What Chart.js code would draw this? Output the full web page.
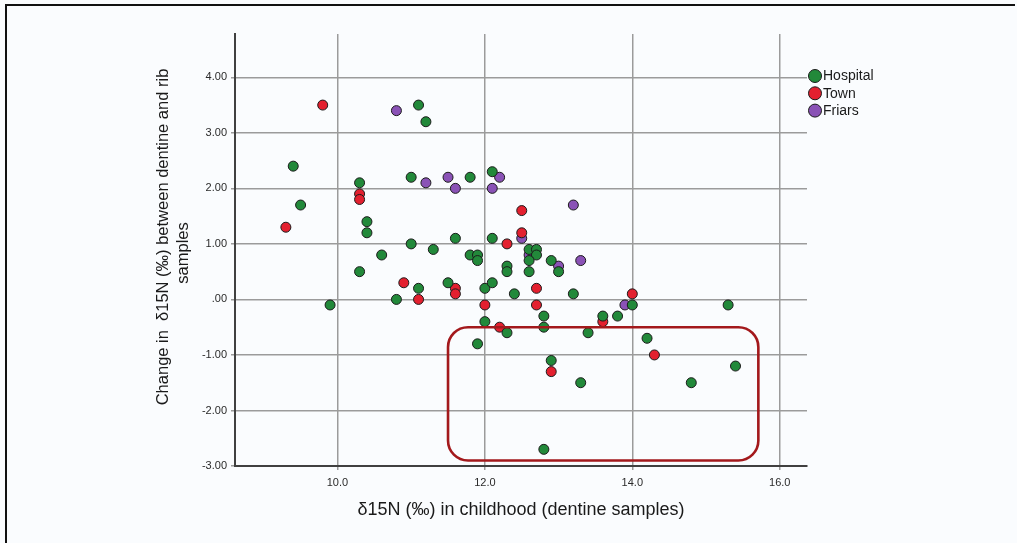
<!DOCTYPE html>
<html>
<head>
<meta charset="utf-8">
<script src="https://cdn.jsdelivr.net/npm/chart.js@4.4.1/dist/chart.umd.min.js"></script>
<style>
  html, body { margin: 0; padding: 0; background: #fafcfe; }
  #wrap { position: relative; width: 1017px; height: 543px; overflow: hidden; }
  #frame { position: absolute; left: 5px; top: 4px; width: 1010px; height: 560px;
           border-top: 2px solid #111; border-left: 2px solid #111; box-sizing: border-box; }
  canvas { position: absolute; left: 0; top: 0; }
</style>
</head>
<body>
<div id="wrap">
  <div id="frame"></div>
  <canvas id="c" width="1017" height="543"></canvas>
</div>
<script>
// ---- data ----
const seriesNames = ["Hospital", "Town", "Friars"];

const hospitalX = [11.1, 11.2, 9.4, 9.5, 10.3, 10.4, 10.4, 11.0, 11.8, 12.1, 11.0, 11.3, 10.6, 10.3, 9.9, 10.8, 11.1, 11.5, 11.6, 12.1, 11.8, 11.9, 11.9, 12.0, 12.1, 12.3, 12.3, 12.4, 12.6, 12.7, 12.7, 12.6, 12.6, 12.9, 13.0, 13.2, 12.0, 12.3, 11.9, 12.8, 12.8, 13.4, 13.6, 13.8, 14.0, 14.2, 12.9, 13.3, 12.8, 14.8, 15.4, 15.3];
const hospitalY = [3.5, 3.2, 2.4, 1.7, 2.1, 1.4, 1.2, 2.2, 2.2, 2.3, 1.0, 0.9, 0.8, 0.5, -0.1, 0.0, 0.2, 0.3, 1.1, 1.1, 0.8, 0.8, 0.7, 0.2, 0.3, 0.6, 0.5, 0.1, 0.9, 0.9, 0.8, 0.7, 0.5, 0.7, 0.5, 0.1, -0.4, -0.6, -0.8, -0.3, -0.5, -0.6, -0.3, -0.3, -0.1, -0.7, -1.1, -1.5, -2.7, -1.5, -1.2, -0.1];

const townX = [9.8, 9.3, 10.3, 10.3, 10.9, 11.1, 11.6, 11.6, 12.0, 12.2, 12.3, 12.5, 12.5, 12.7, 12.7, 13.6, 14.0, 14.3, 12.9];
const townY = [3.5, 1.3, 1.9, 1.8, 0.3, 0.0, 0.2, 0.1, -0.1, -0.5, 1.0, 1.6, 1.2, 0.2, -0.1, -0.4, 0.1, -1.0, -1.3];

const friarsX = [10.8, 11.2, 11.5, 11.6, 12.1, 12.2, 12.5, 12.6, 13.0, 13.3, 13.2, 13.9];
const friarsY = [3.4, 2.1, 2.2, 2.0, 2.0, 2.2, 1.1, 0.8, 0.6, 0.7, 1.7, -0.1];

const xTickValues = [10, 12, 14, 16];
const yTickValues = [-3, -2, -1, 0, 1, 2, 3, 4];

// highlighted region (data units)
const boxX = [11.5, 15.71];
const boxY = [-2.9, -0.5];

const xTitle = "δ15N (‰) in childhood (dentine samples)";
const yTitleLines = ["Change in  δ15N (‰) between dentine and rib", "samples"];

// ---- styling ----
const colors = ["#22893a", "#e3202f", "#8a52b6"];
const FONT = "'Liberation Sans', Arial, sans-serif";

function pts(xs, ys) { return xs.map((x, i) => ({ x: x, y: ys[i] })); }

const datasets = [
  { label: seriesNames[0], data: pts(hospitalX, hospitalY) },
  { label: seriesNames[1], data: pts(townX, townY) },
  { label: seriesNames[2], data: pts(friarsX, friarsY) }
].map((d, i) => Object.assign(d, {
  backgroundColor: colors[i],
  borderColor: "#1b1b1b",
  borderWidth: 1,
  pointRadius: 5,
  pointHoverRadius: 5
}));

const overlayPlugin = {
  id: "overlay",
  afterDraw(chart) {
    const ctx = chart.ctx;
    const xs = chart.scales.x, ys = chart.scales.y;
    // rounded rectangle annotation
    const x0 = xs.getPixelForValue(boxX[0]), x1 = xs.getPixelForValue(boxX[1]);
    const y0 = ys.getPixelForValue(boxY[1]), y1 = ys.getPixelForValue(boxY[0]);
    const r = 20;
    ctx.save();
    ctx.strokeStyle = "#a3191c";
    ctx.lineWidth = 2.6;
    ctx.beginPath();
    ctx.moveTo(x0 + r, y0);
    ctx.lineTo(x1 - r, y0);
    ctx.arcTo(x1, y0, x1, y0 + r, r);
    ctx.lineTo(x1, y1 - r);
    ctx.arcTo(x1, y1, x1 - r, y1, r);
    ctx.lineTo(x0 + r, y1);
    ctx.arcTo(x0, y1, x0, y1 - r, r);
    ctx.lineTo(x0, y0 + r);
    ctx.arcTo(x0, y0, x0 + r, y0, r);
    ctx.closePath();
    ctx.stroke();
    ctx.restore();

    // y axis title
    ctx.save();
    ctx.fillStyle = "#1a1a1a";
    ctx.font = "16.5px " + FONT;
    ctx.textAlign = "center";
    ctx.textBaseline = "middle";
    ctx.translate(163, 237);
    ctx.rotate(-Math.PI / 2);
    ctx.fillText(yTitleLines[0], 0, 0);
    ctx.fillText(yTitleLines[1], -16, 20);
    ctx.restore();

    // legend
    ctx.save();
    ctx.font = "14px " + FONT;
    ctx.textBaseline = "middle";
    chart.data.datasets.forEach((d, i) => {
      const cy = 76 + i * 17.3;
      ctx.beginPath();
      ctx.arc(815, cy, 6.5, 0, Math.PI * 2);
      ctx.fillStyle = d.backgroundColor;
      ctx.fill();
      ctx.lineWidth = 1;
      ctx.strokeStyle = "#1b1b1b";
      ctx.stroke();
      ctx.fillStyle = "#1a1a1a";
      ctx.fillText(d.label, 823, cy + 0.5);
    });
    ctx.restore();
  }
};

new Chart(document.getElementById("c"), {
  type: "scatter",
  data: { datasets: datasets },
  options: {
    responsive: false,
    animation: false,
    devicePixelRatio: 1,
    layout: { padding: { left: 150, right: 210, top: 34, bottom: 0 } },
    plugins: { legend: { display: false }, tooltip: { enabled: false } },
    scales: {
      x: {
        type: "linear",
        min: 8.61,
        max: 16.37,
        afterBuildTicks(s) { s.ticks = xTickValues.map(v => ({ value: v })); },
        afterFit(s) { s.height = 77; },
        ticks: {
          color: "#2a2a2a",
          font: { family: FONT, size: 11 },
          padding: 6,
          callback: v => Number(v).toFixed(1)
        },
        grid: { color: "#9b9b9b", lineWidth: 1.5, drawTicks: true, tickLength: 4 },
        border: { color: "#404040", width: 2 },
        title: {
          display: true,
          text: xTitle,
          color: "#1a1a1a",
          font: { family: FONT, size: 18 },
          padding: { top: 0, bottom: 22 }
        }
      },
      y: {
        type: "linear",
        min: -3,
        max: 4.78,
        afterBuildTicks(s) { s.ticks = yTickValues.map(v => ({ value: v })); },
        afterFit(s) { s.width = 85; },
        ticks: {
          color: "#2a2a2a",
          font: { family: FONT, size: 11 },
          padding: 4,
          callback: v => (v === 0 ? ".00" : Number(v).toFixed(2))
        },
        grid: { color: "#9b9b9b", lineWidth: 1.5, drawTicks: true, tickLength: 4 },
        border: { color: "#404040", width: 2 }
      }
    }
  },
  plugins: [overlayPlugin]
});
</script>
</body>
</html>
